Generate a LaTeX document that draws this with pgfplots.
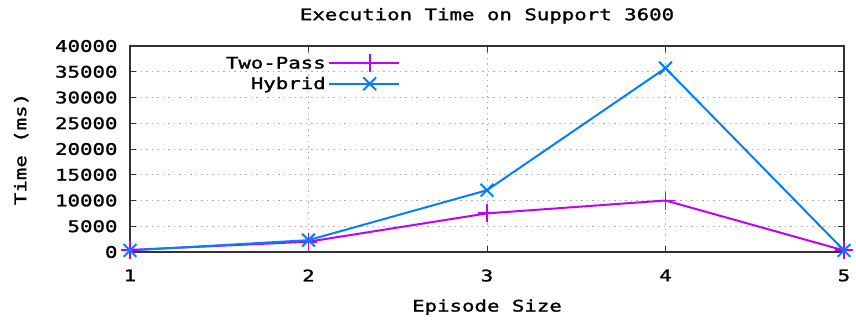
\documentclass[border=0pt]{standalone}
\usepackage{fontspec}
\setmainfont[FakeStretch=1.3, FakeBold=1.5]{DejaVu Sans Mono}
\usepackage{pgfplots}
\pgfplotsset{compat=1.18}
\definecolor{cTwo}{RGB}{192,0,255}
\definecolor{cHyb}{RGB}{0,128,255}
\newcommand{\gfont}{\fontsize{16}{19}\selectfont}
\begin{document}
\begin{tikzpicture}
\path[use as bounding box] (-130bp,-69bp) rectangle (726bp,252bp);
\begin{axis}[
  at={(0,0)}, anchor=south west,
  scale only axis, width=714bp, height=206bp,
  xmin=1, xmax=5, ymin=0, ymax=40000,
  xtick={1,2,3,4,5}, ytick={0,5000,...,40000},
  scaled y ticks=false,
  tick align=inside, major tick length=6bp,
  grid=major,
  major grid style={dash pattern=on 1.5bp off 4bp, gray!65, line width=0.9pt},
  axis line style={line width=1.1pt, black!80},
  every tick/.style={black!80, line width=1pt},
  /pgf/number format/assume math mode=true,
  /pgf/number format/set thousands separator={},
  /pgf/number format/fixed,
  tick label style={font=\gfont},
  xticklabel style={yshift=-14bp},
  yticklabel style={xshift=-9bp},
  title={Execution Time on Support 3600},
  title style={font=\gfont, at={(0.5,1)}, anchor=south, yshift=13bp},
  xlabel={Episode Size},
  ylabel={Time (ms)},
  label style={font=\gfont},
  xlabel style={yshift=-11bp},
  ylabel style={yshift=20bp},
  legend style={font=\gfont, draw=none, fill=none, at={(0.378,0.96)}, anchor=north east,
    row sep=2.5bp, inner sep=0pt},
  legend cell align=right,
  legend plot pos=right,
  legend image code/.code={%
    \path (0bp,0bp) -- (12bp,0bp);
    \draw[#1, mark=none, line width=2pt] (12bp,0bp) -- (70bp,0bp);
    \draw[#1, only marks] plot coordinates {(41bp,0bp)};
  },
]
\addplot[cTwo, line width=2pt, mark=+, mark size=9bp, mark options={line width=2pt}]
  coordinates {(1,400) (2,2000) (3,7500) (4,10000) (5,300)};
\addlegendentry{Two-Pass}
\addplot[cHyb, line width=2pt, mark=x, mark size=9bp, mark options={line width=2pt}]
  coordinates {(1,300) (2,2300) (3,12000) (4,35700) (5,300)};
\addlegendentry{Hybrid}
\end{axis}
\end{tikzpicture}
\end{document}
